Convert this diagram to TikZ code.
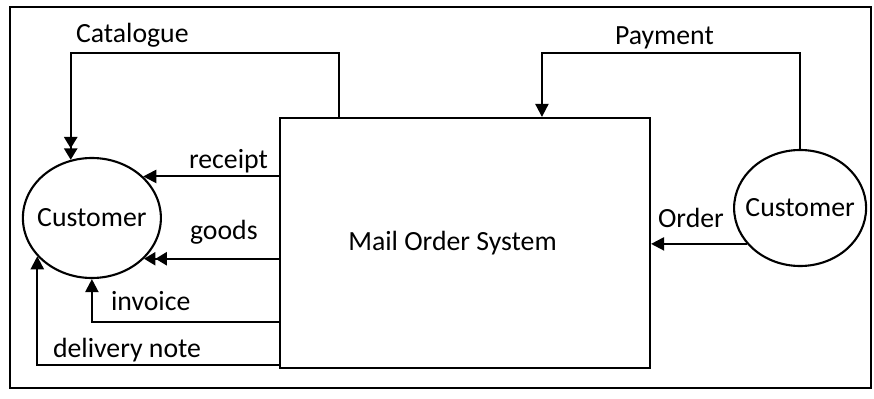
\documentclass[tikz,border=0pt]{standalone}
\usepackage{fontspec}
\setmainfont{Carlito}
\usetikzlibrary{arrows.meta,positioning,shapes.geometric}

\begin{document}
\begin{tikzpicture}[>={Triangle[length=7.5pt,width=7.5pt]},line width=1.2pt,
    font=\fontsize{15.8}{18}\selectfont,
    cust/.style={draw,ellipse,inner xsep=-0.4cm,inner ysep=0pt,minimum width=2.76cm,minimum height=2.4cm},
    lbl/.style={anchor=base west,inner sep=0pt},
    dbl/.style={-{Triangle[length=6.5pt,width=7.5pt] Triangle[length=6.5pt,width=7.5pt]}}]
    \useasboundingbox (0,0) rectangle (17.48,7.96);
    \draw (0.2,0.2) rectangle (17.42,7.82);
    \node[draw,minimum width=7.4cm,minimum height=5cm] (sys) at (9.3,3.1) {Mail Order System\hspace*{0.5cm}};
    \node[cust,left=2.34cm of sys,yshift=0.5cm] (cusL) {Customer};
    \node[cust,right=1.64cm of sys,yshift=0.7cm,minimum width=2.64cm,minimum height=2.32cm] (cusR) {Customer};
    % flows to the customer
    \draw[dbl] ([xshift=1.2cm]sys.north west) -- ++(0,1.28) -| (cusL.110);
    \draw[->] (sys.west |- cusL.39) -- (cusL.39);
    \draw[dbl] (sys.west |- cusL.-38) -- (cusL.-38);
    \draw[->] ([yshift=0.94cm]sys.south west) -| (cusL.south);
    \draw[->] ([yshift=0.08cm]sys.south west) -| (cusL.215);
    % flows from the customer
    \draw[->] (cusR.north) -- ++(0,1.92) -| ([xshift=5.26cm]sys.north west);
    \draw[->] (cusR.214) -- (sys.east |- cusR.214);
    \node[lbl] (lcat) at (1.5,7.1) {Catalogue};
    \node[lbl] (lrec) at (3.76,4.6) {receipt};
    \node[lbl] (lgoods) at (3.78,3.16) {goods};
    \node[lbl] (linv) at (2.2,1.74) {invoice};
    \node[lbl] (ldel) at (1.04,0.8) {delivery note};
    \node[lbl] (lpay) at (12.28,7.06) {Payment};
    \node[lbl] (lord) at (13.14,3.42) {Order};
  \end{tikzpicture}
\end{document}
